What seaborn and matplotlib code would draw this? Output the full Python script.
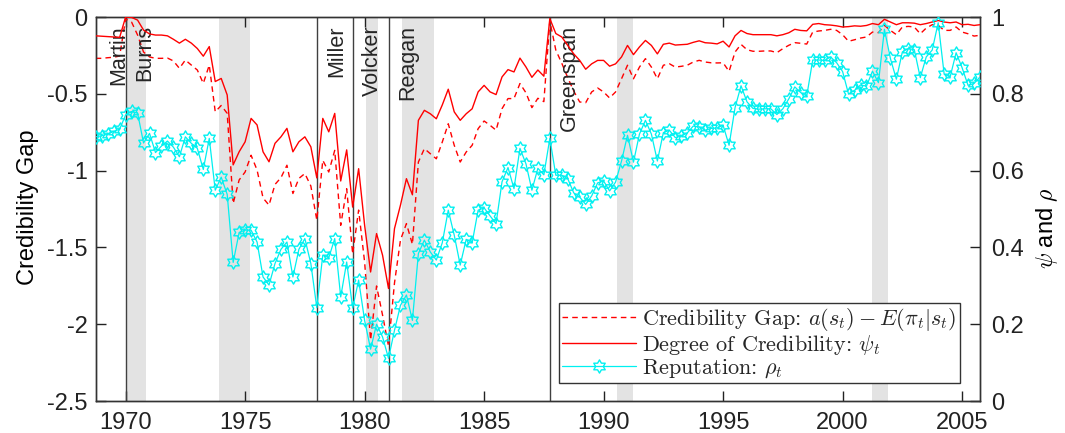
import numpy as np
import pandas as pd
import matplotlib
matplotlib.use("Agg")
import matplotlib.pyplot as plt
import seaborn as sns
from matplotlib.path import Path
from matplotlib.ticker import FuncFormatter, FixedLocator
from matplotlib.font_manager import FontProperties
import matplotlib.transforms as mtransforms

# ---------------- data (quarterly, 1968Q4 .. 2005Q4) ----------------
start_year = 1968.75

psi = [0.951,
       0.950, 0.949, 0.948, 0.947,   # 1969
       1.000, 0.999, 0.992, 0.966,   # 1970
       0.956, 0.953, 0.953, 0.951,   # 1971
       0.942, 0.932, 0.942, 0.932,   # 1972
       0.918, 0.898, 0.923, 0.832,   # 1973
       0.840, 0.797, 0.615, 0.649,   # 1974
       0.675, 0.736, 0.719, 0.649,   # 1975
       0.623, 0.671, 0.688, 0.710,   # 1976
       0.649, 0.675, 0.688, 0.662,   # 1977
       0.581, 0.736, 0.701, 0.749,   # 1978
       0.573, 0.654, 0.505, 0.605,   # 1979
       0.458, 0.336, 0.436, 0.380,   # 1980
       0.293, 0.449, 0.510, 0.579,   # 1981
       0.537, 0.731, 0.757, 0.748,   # 1982
       0.735, 0.771, 0.812, 0.753,   # 1983
       0.731, 0.748, 0.761, 0.805,   # 1984
       0.822, 0.805, 0.798, 0.844,   # 1985
       0.863, 0.857, 0.893, 0.870,   # 1986
       0.843, 0.862, 0.846, 0.996,   # 1987
       0.957, 0.948, 0.926, 0.904,   # 1988
       0.887, 0.864, 0.878, 0.887,   # 1989
       0.887, 0.872, 0.878, 0.896,   # 1990
       0.926, 0.902, 0.922, 0.939,   # 1991
       0.926, 0.904, 0.929, 0.932,   # 1992
       0.927, 0.928, 0.929, 0.934,   # 1993
       0.938, 0.933, 0.932, 0.930,   # 1994
       0.937, 0.922, 0.951, 0.965,   # 1995
       0.957, 0.954, 0.954, 0.954,   # 1996
       0.954, 0.951, 0.954, 0.959,   # 1997
       0.968, 0.965, 0.964, 0.981,   # 1998
       0.983, 0.980, 0.979, 0.977,   # 1999
       0.974, 0.975, 0.977, 0.976,   # 2000
       0.978, 0.983, 0.980, 0.994,   # 2001
       0.987, 0.980, 0.985, 0.985,   # 2002
       0.984, 0.980, 0.983, 0.987,   # 2003
       0.991, 0.987, 0.985, 0.987,   # 2004
       0.980, 0.981, 0.978, 0.980]   # 2005

gap = [-0.269,
       -0.269, -0.265, -0.262, -0.254,   # 1969
       -0.013, -0.033, -0.117, -0.228,   # 1970
       -0.260, -0.269, -0.269, -0.267,   # 1971
       -0.286, -0.334, -0.280, -0.313,   # 1972
       -0.345, -0.432, -0.313, -0.617,   # 1973
       -0.576, -0.627, -1.214, -1.061,   # 1974
       -1.009, -0.900, -0.996, -1.178,   # 1975
       -1.225, -1.090, -1.046, -0.965,   # 1976
       -1.149, -1.051, -1.019, -1.100,   # 1977
       -1.322, -0.933, -1.009, -0.868,   # 1978
       -1.356, -1.118, -1.543, -1.257,   # 1979
       -1.595, -2.103, -1.751, -1.940,   # 1980
       -2.142, -1.732, -1.452, -1.345,   # 1981
       -1.480, -0.944, -0.857, -0.890,   # 1982
       -0.923, -0.814, -0.695, -0.835,   # 1983
       -0.944, -0.879, -0.835, -0.727,   # 1984
       -0.677, -0.705, -0.737, -0.597,   # 1985
       -0.531, -0.531, -0.433, -0.493,   # 1986
       -0.590, -0.529, -0.551, -0.026,   # 1987
       -0.215, -0.301, -0.395, -0.482,   # 1988
       -0.553, -0.558, -0.488, -0.462,   # 1989
       -0.488, -0.527, -0.488, -0.402,   # 1990
       -0.314, -0.402, -0.326, -0.271,   # 1991
       -0.326, -0.402, -0.314, -0.304,   # 1992
       -0.326, -0.321, -0.314, -0.293,   # 1993
       -0.282, -0.293, -0.298, -0.299,   # 1994
       -0.298, -0.354, -0.228, -0.178,   # 1995
       -0.213, -0.223, -0.223, -0.221,   # 1996
       -0.221, -0.232, -0.206, -0.184,   # 1997
       -0.167, -0.171, -0.176, -0.098,   # 1998
       -0.091, -0.087, -0.080, -0.087,   # 1999
       -0.115, -0.158, -0.148, -0.137,   # 2000
       -0.130, -0.098, -0.102, -0.054,   # 2001
       -0.087, -0.115, -0.065, -0.061,   # 2002
       -0.065, -0.109, -0.072, -0.050,   # 2003
       -0.054, -0.087, -0.087, -0.065,   # 2004
       -0.098, -0.109, -0.124, -0.119]   # 2005

rho = [0.688,
       0.691, 0.695, 0.702, 0.708,   # 1969
       0.745, 0.754, 0.750, 0.672,   # 1970
       0.697, 0.647, 0.664, 0.677,   # 1971
       0.661, 0.636, 0.688, 0.671,   # 1972
       0.658, 0.603, 0.684, 0.549,   # 1973
       0.583, 0.538, 0.361, 0.439,   # 1974
       0.445, 0.445, 0.414, 0.323,   # 1975
       0.302, 0.358, 0.395, 0.414,   # 1976
       0.323, 0.395, 0.423, 0.358,   # 1977
       0.243, 0.380, 0.373, 0.423,   # 1978
       0.271, 0.362, 0.242, 0.315,   # 1979
       0.210, 0.135, 0.200, 0.167,   # 1980
       0.111, 0.184, 0.249, 0.276,   # 1981
       0.210, 0.384, 0.419, 0.388,   # 1982
       0.367, 0.412, 0.497, 0.432,   # 1983
       0.354, 0.421, 0.412, 0.497,   # 1984
       0.503, 0.482, 0.462, 0.571,   # 1985
       0.608, 0.553, 0.658, 0.618,   # 1986
       0.549, 0.606, 0.589, 0.684,   # 1987
       0.588, 0.588, 0.579, 0.542,   # 1988
       0.531, 0.512, 0.534, 0.568,   # 1989
       0.573, 0.547, 0.570, 0.625,   # 1990
       0.692, 0.622, 0.695, 0.731,   # 1991
       0.695, 0.625, 0.699, 0.705,   # 1992
       0.686, 0.690, 0.698, 0.716,   # 1993
       0.714, 0.705, 0.710, 0.711,   # 1994
       0.718, 0.666, 0.764, 0.821,   # 1995
       0.779, 0.762, 0.760, 0.761,   # 1996
       0.761, 0.746, 0.761, 0.787,   # 1997
       0.818, 0.803, 0.794, 0.888,   # 1998
       0.888, 0.887, 0.896, 0.881,   # 1999
       0.858, 0.799, 0.809, 0.823,   # 2000
       0.820, 0.859, 0.829, 0.968,   # 2001
       0.892, 0.838, 0.909, 0.918,   # 2002
       0.915, 0.842, 0.896, 0.914,   # 2003
       0.985, 0.851, 0.844, 0.907,   # 2004
       0.868, 0.822, 0.827, 0.844]   # 2005

# recession shading (NBER) and Fed chair / president changes
rec_start = [1970.0, 1973.9, 1980.05, 1981.55, 1990.55, 2001.25]
rec_end = [1970.87, 1975.2, 1980.55, 1982.9, 1991.22, 2001.9]
event_dates = [1970.0, 1978.0, 1979.5, 1981.0, 1987.75]
label_names = ["Martin", "Burns", "Miller", "Volcker", "Reagan", "Greenspan"]
label_dates = [1970.0, 1970.0, 1978.0, 1979.5, 1981.0, 1987.75]
label_side = ["left", "right", "right", "right", "right", "right"]

left_ticks = [0, -0.5, -1, -1.5, -2, -2.5]
right_ticks = [0, 0.2, 0.4, 0.6, 0.8, 1.0]
x_ticks = [1970, 1975, 1980, 1985, 1990, 1995, 2000, 2005]

quarters = start_year + 0.25 * np.arange(len(psi))
df = pd.DataFrame({"t": quarters, "psi": psi, "gap": gap, "rho": rho})

# ---------------- style ----------------
sns.set_theme(style="white")
plt.rcParams["font.family"] = ["Liberation Sans", "DejaVu Sans"]
plt.rcParams["mathtext.fontset"] = "cm"
plt.rcParams["axes.unicode_minus"] = False

fig = plt.figure(figsize=(10.65, 4.33), dpi=100)
ax = fig.add_axes([0.0899, 0.0739, 0.8303, 0.8868])
ax2 = ax.twinx()

# hexagram marker
ang_out = np.pi / 2 + np.arange(6) * np.pi / 3
ang_in = ang_out + np.pi / 6
r_in = 1 / np.sqrt(3)
verts = []
for ao, ai in zip(ang_out, ang_in):
    verts.append((np.cos(ao), np.sin(ao)))
    verts.append((r_in * np.cos(ai), r_in * np.sin(ai)))
verts.append(verts[0])
hexagram = Path(verts, closed=True)

cyan = "#00f0f0"

# shading and vertical lines
for s, e in zip(rec_start, rec_end):
    ax.axvspan(s, e, color="#e3e3e3", lw=0, zorder=0)
for d in event_dates:
    ax.axvline(d, color="#404040", lw=1.0, zorder=1)

sns.lineplot(data=df, x="t", y="gap", ax=ax, color="red", lw=1.0,
             linestyle=(0, (4, 3)), label=r"Credibility Gap: $a(s_t)-E(\pi_t|s_t)$",
             legend=False, zorder=3)
sns.lineplot(data=df, x="t", y="psi", ax=ax2, color="red", lw=1.0,
             label=r"Degree of Credibility: $\psi_t$", legend=False, zorder=3)
sns.lineplot(data=df, x="t", y="rho", ax=ax2, color=cyan, lw=0.9,
             marker=hexagram, markersize=9.5, markerfacecolor="none",
             markeredgecolor=cyan, markeredgewidth=1.0,
             label=r"Reputation: $\rho_t$", legend=False, zorder=4)

# labels of chairs
trans = mtransforms.blended_transform_factory(ax.transData, ax.transAxes)
for name, d, side in zip(label_names, label_dates, label_side):
    if side == "left":
        ax.text(d + 0.15, 0.979, name, rotation=90, ha="right", va="top",
                fontsize=15.5, transform=trans, zorder=5)
    else:
        ax.text(d + 0.38, 0.979, name, rotation=90, ha="left", va="top",
                fontsize=15.5, transform=trans, zorder=5)

# axes limits & ticks
ax.set_xlim(quarters[0], quarters[-1])
ax.set_ylim(-2.5, 0)
ax2.set_ylim(0, 1)
ax.xaxis.set_major_locator(FixedLocator(x_ticks))
ax.yaxis.set_major_locator(FixedLocator(left_ticks))
ax2.yaxis.set_major_locator(FixedLocator(right_ticks))
fmt = FuncFormatter(lambda v, p: f"{v:g}")
ax.yaxis.set_major_formatter(fmt)
ax2.yaxis.set_major_formatter(fmt)
ax.xaxis.set_major_formatter(FuncFormatter(lambda v, p: f"{int(round(v))}"))

ax.tick_params(axis="x", direction="in", length=7, width=1, top=True,
               bottom=True, labelsize=17, pad=8, colors="#222222")
ax.tick_params(axis="y", direction="in", length=7, width=1, left=True,
               right=False, labelsize=17, pad=6, colors="#222222")
ax2.tick_params(axis="y", direction="in", length=7, width=1, left=False,
                right=True, labelsize=17, pad=8, colors="#222222")
for a in (ax, ax2):
    for sp in a.spines.values():
        sp.set_color("#333333")
        sp.set_linewidth(1.0)
        sp.set_visible(True)

ax.set_xlabel("")
ax.set_ylabel("Credibility Gap", fontsize=17, color="black")
ax2.set_ylabel(r"$\psi$ and $\rho$", fontsize=17, color="black")
ax.yaxis.set_label_coords(-0.064, 0.505)
ax2.yaxis.set_label_coords(1.061, 0.45)

# legend
h1, l1 = ax.get_legend_handles_labels()
h2, l2 = ax2.get_legend_handles_labels()
leg = ax2.legend(h1 + h2, l1 + l2, loc="lower right",
                 bbox_to_anchor=(0.9774, 0.0469), borderaxespad=0,
                 prop=FontProperties(family="cmr10", size=16),
                 handlelength=3.3, handletextpad=0.3, labelspacing=0.0,
                 borderpad=0.15, frameon=True, fancybox=False,
                 edgecolor="#333333", framealpha=1, facecolor="white")
leg.get_frame().set_linewidth(1.0)

fig.savefig("out.png", dpi=100)
